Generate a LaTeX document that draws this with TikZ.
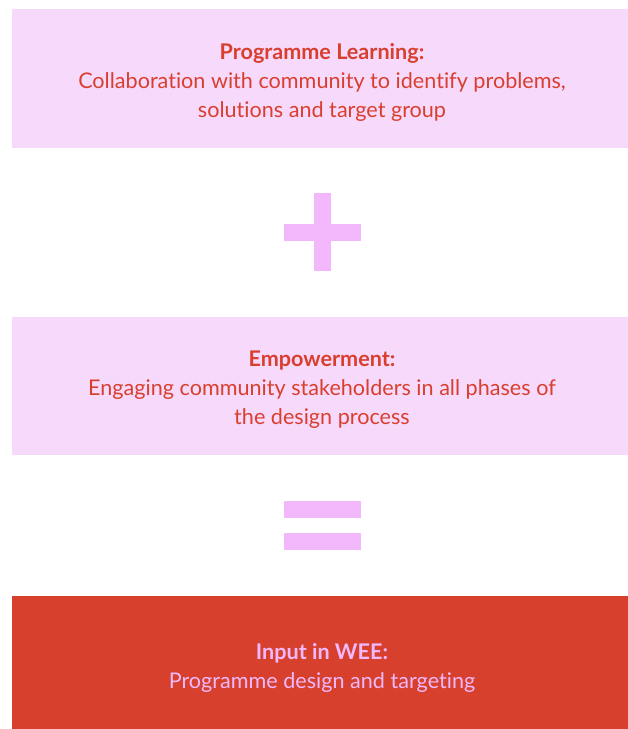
\documentclass[tikz,border=0pt]{standalone}
\usepackage{fontspec}
\setmainfont{Lato}[Ligatures={NoCommon}]
\definecolor{boxpink}{HTML}{F7D9FB}
\definecolor{sympink}{HTML}{F2B8FB}
\definecolor{wred}{HTML}{D6402C}
\definecolor{tred}{HTML}{D93F2E}
\begin{document}
\begin{tikzpicture}[x=1pt,y=-1pt,
  panel/.style={fill=boxpink,draw=none},
  redpanel/.style={fill=wred,draw=none},
  sym/.style={fill=sympink,draw=none},
  lbl/.style={align=center,font=\fontsize{21.6}{29}\selectfont,inner sep=0pt}]
\useasboundingbox (0,0) rectangle (628,729);
\fill[white] (0,0) rectangle (628,729);
\path[panel] (12,9) rectangle (628,148);
\node[lbl,text=tred] (learn) at (322,82) {\textbf{Programme Learning:}\\Collaboration with community to identify problems,\\solutions and target group};
\path[sym] (314,193) rectangle (331,271);
\path[sym] (284,224) rectangle (361,241);
\path[panel] (12,317) rectangle (628,455);
\node[lbl,text=tred] (emp) at (322,390) {\textbf{Empowerment:}\\Engaging community stakeholders in all phases of\\the design process};
\path[sym] (284,501) rectangle (361,518);
\path[sym] (284,533) rectangle (361,550);
\path[redpanel] (12,596) rectangle (628,729);
\node[lbl,text=sympink] (wee) at (322,668) {\textbf{Input in WEE:}\\Programme design and targeting};
\end{tikzpicture}
\end{document}
